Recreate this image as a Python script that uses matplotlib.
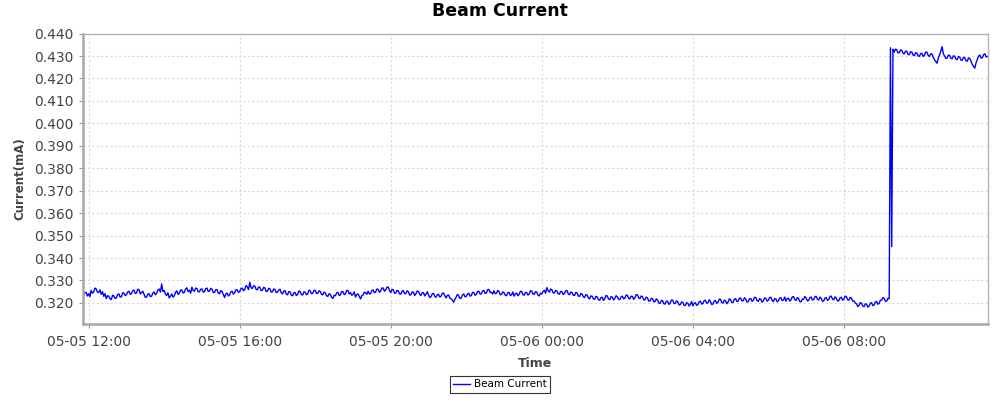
import matplotlib
matplotlib.use('Agg')
import matplotlib.pyplot as plt
import matplotlib.dates as mdates
import numpy as np
import pandas as pd


# Beam current readings, one every 2 minutes, in units of 1e-4 mA.
# Low beam runs from 05-05 11:52 up to 05-06 09:12, one hour per line.
low_beam = [
    3232, 3247, 3246, 3231,
    3241, 3228, 3256, 3243, 3249, 3266, 3262, 3247, 3247, 3258, 3238, 3250, 3229, 3241, 3219,
    3232, 3230, 3218, 3215, 3234, 3231, 3220, 3222, 3237, 3240, 3226, 3227, 3245, 3244, 3233,
    3236, 3249, 3252, 3238, 3241, 3255, 3257, 3242, 3244, 3261, 3259, 3240, 3246, 3252, 3238,
    3225, 3226, 3239, 3241, 3228, 3230, 3244, 3249, 3236, 3243, 3257, 3262, 3248, 3284, 3251,
    3255, 3239, 3233, 3245, 3222, 3230, 3240, 3226, 3231, 3247, 3254, 3238, 3243, 3257, 3258,
    3244, 3247, 3262, 3267, 3251, 3256, 3243, 3270, 3255, 3252, 3266, 3264, 3250, 3249, 3261,
    3262, 3248, 3250, 3263, 3266, 3251, 3253, 3265, 3261, 3246, 3247, 3259, 3259, 3244, 3241,
    3255, 3251, 3237, 3224, 3240, 3244, 3231, 3236, 3250, 3252, 3239, 3245, 3259, 3258, 3247,
    3251, 3263, 3266, 3254, 3260, 3277, 3272, 3259, 3292, 3268, 3264, 3276, 3275, 3261, 3258,
    3271, 3270, 3255, 3256, 3269, 3267, 3251, 3252, 3265, 3263, 3248, 3249, 3262, 3260, 3246,
    3248, 3257, 3261, 3245, 3240, 3252, 3255, 3239, 3236, 3250, 3249, 3234, 3232, 3245, 3246,
    3233, 3238, 3253, 3251, 3237, 3235, 3249, 3248, 3236, 3240, 3257, 3254, 3241, 3243, 3256,
    3256, 3242, 3243, 3254, 3251, 3238, 3236, 3248, 3244, 3232, 3229, 3241, 3238, 3225, 3220,
    3234, 3232, 3244, 3247, 3233, 3236, 3251, 3250, 3237, 3241, 3256, 3255, 3240, 3246, 3234,
    3238, 3249, 3226, 3237, 3240, 3229, 3218, 3232, 3235, 3248, 3246, 3238, 3252, 3240, 3241,
    3255, 3258, 3245, 3249, 3262, 3260, 3247, 3254, 3267, 3266, 3252, 3258, 3270, 3271, 3255,
    3246, 3260, 3259, 3243, 3244, 3256, 3253, 3240, 3239, 3252, 3255, 3241, 3242, 3254, 3250,
    3235, 3236, 3249, 3248, 3233, 3240, 3253, 3251, 3238, 3233, 3245, 3246, 3231, 3239, 3250,
    3236, 3224, 3228, 3241, 3242, 3229, 3225, 3237, 3238, 3226, 3230, 3243, 3244, 3231, 3222,
    3234, 3235, 3221, 3218, 3212, 3203, 3217, 3226, 3238, 3231, 3219, 3222, 3235, 3240, 3227,
    3229, 3240, 3243, 3230, 3233, 3247, 3246, 3234, 3238, 3251, 3252, 3239, 3241, 3254, 3255,
    3242, 3244, 3259, 3260, 3246, 3248, 3239, 3254, 3241, 3243, 3256, 3250, 3236, 3238, 3249,
    3245, 3234, 3232, 3246, 3247, 3233, 3236, 3249, 3230, 3241, 3244, 3232, 3238, 3252, 3251,
    3237, 3234, 3247, 3246, 3235, 3240, 3254, 3253, 3239, 3238, 3250, 3248, 3234, 3231, 3243,
    3240, 3251, 3256, 3243, 3268, 3255, 3248, 3262, 3259, 3245, 3244, 3256, 3253, 3240, 3239,
    3251, 3250, 3237, 3242, 3254, 3255, 3241, 3236, 3248, 3247, 3234, 3233, 3246, 3245, 3231,
    3229, 3242, 3240, 3227, 3224, 3237, 3235, 3222, 3218, 3231, 3230, 3217, 3216, 3229, 3227,
    3214, 3212, 3224, 3225, 3211, 3219, 3233, 3231, 3218, 3214, 3228, 3226, 3213, 3220, 3232,
    3228, 3216, 3215, 3227, 3230, 3218, 3221, 3235, 3234, 3220, 3218, 3230, 3229, 3216, 3223,
    3237, 3236, 3222, 3219, 3231, 3227, 3213, 3214, 3226, 3222, 3208, 3209, 3221, 3218, 3205,
    3206, 3218, 3213, 3200, 3198, 3211, 3210, 3196, 3195, 3208, 3207, 3193, 3200, 3213, 3212,
    3198, 3197, 3209, 3205, 3191, 3192, 3204, 3203, 3189, 3188, 3201, 3199, 3186, 3193, 3206,
    3187, 3198, 3201, 3189, 3192, 3205, 3208, 3195, 3197, 3210, 3212, 3199, 3200, 3214, 3206,
    3193, 3195, 3208, 3211, 3198, 3203, 3217, 3216, 3202, 3199, 3212, 3209, 3196, 3204, 3218,
    3214, 3201, 3203, 3216, 3219, 3206, 3208, 3221, 3222, 3209, 3210, 3223, 3217, 3204, 3205,
    3218, 3220, 3207, 3211, 3225, 3224, 3210, 3207, 3219, 3216, 3203, 3209, 3222, 3221, 3208,
    3212, 3224, 3225, 3211, 3206, 3219, 3218, 3205, 3210, 3222, 3223, 3210, 3213, 3226, 3208,
    3219, 3221, 3208, 3214, 3227, 3228, 3215, 3211, 3224, 3219, 3206, 3205, 3217, 3216, 3229,
    3222, 3209, 3211, 3224, 3226, 3213, 3215, 3228, 3229, 3216, 3213, 3226, 3220, 3207, 3209,
    3222, 3224, 3211, 3216, 3229, 3230, 3217, 3214, 3227, 3221, 3208, 3210, 3223, 3225, 3212,
    3217, 3230, 3228, 3214, 3212, 3225, 3221, 3208, 3209, 3200, 3196, 3184, 3188, 3201, 3199,
    3186, 3183, 3196, 3194, 3181, 3186, 3199, 3201, 3188, 3190, 3204, 3207, 3194, 3198, 3212,
    3212, 3224, 3220, 3207, 3208, 3221, 3218,
]

# High beam from 05-06 09:14 to 11:48 (with the one drop just after the step)
high_beam = [
    4337, 3451, 4330, 4318, 4331, 4328, 4314, 4315, 4327, 4326, 4312, 4310,
    4322, 4321, 4307, 4306, 4319, 4318, 4304, 4302, 4315, 4313, 4300,
    4299, 4311, 4312, 4298, 4304, 4318, 4317, 4303, 4298, 4310, 4309, 4295, 4283, 4276, 4268,
    4290, 4305, 4322, 4342, 4311, 4300, 4289, 4291, 4304, 4303, 4290, 4288, 4301, 4299, 4286,
    4284, 4297, 4296, 4282, 4281, 4294, 4293, 4279, 4277, 4291, 4290, 4276, 4263, 4254, 4246,
    4270, 4285, 4299, 4305, 4291, 4292, 4306, 4310, 4296, 4298,
]

y_ticks = [0.320, 0.330, 0.340, 0.350, 0.360, 0.370, 0.380, 0.390,
           0.400, 0.410, 0.420, 0.430, 0.440]

current = np.array(low_beam + high_beam) / 10000.0
times = pd.date_range('2024-05-05 11:52', periods=len(current), freq='2min')


fig = plt.figure(figsize=(10, 4), dpi=100)
ax = fig.add_axes([0.083, 0.19, 0.905, 0.726])

ax.plot(times, current, color='#0000ff', lw=1.0, label='Beam Current')

ax.set_xlim(pd.Timestamp('2024-05-05 11:51'), pd.Timestamp('2024-05-06 11:49'))
ax.set_ylim(0.3106, 0.440)
ax.set_yticks(y_ticks)
ax.yaxis.set_major_formatter(matplotlib.ticker.FormatStrFormatter('%.3f'))
ax.xaxis.set_major_locator(mdates.HourLocator(byhour=[0, 4, 8, 12, 16, 20]))
ax.xaxis.set_major_formatter(mdates.DateFormatter('%m-%d %H:%M'))

ax.grid(True, color='#dadada', linestyle=(0, (2, 2)), lw=0.8)
ax.set_axisbelow(True)

for side in ['top', 'right']:
    ax.spines[side].set_color('#b4b4b4')
    ax.spines[side].set_linewidth(1.0)
for side in ['left', 'bottom']:
    ax.spines[side].set_color('#a8a8a8')
    ax.spines[side].set_linewidth(1.8)

ax.tick_params(axis='both', colors='#9a9a9a', length=3, width=0.8,
               labelsize=10, labelcolor='#444444')
ax.tick_params(axis='x', pad=5)

ax.set_xlabel('Time', fontsize=9, fontweight='bold', color='#444444', labelpad=6)
ax.set_ylabel('Current(mA)', fontsize=8.5, fontweight='bold', color='#444444', labelpad=6)
fig.suptitle('Beam Current', fontsize=12.5, fontweight='bold', y=0.995)

leg = fig.legend(loc='lower center', bbox_to_anchor=(0.5, 0.005), fontsize=7.5,
                 frameon=True, fancybox=False, handlelength=1.6,
                 borderpad=0.35, handletextpad=0.4)
leg.get_frame().set_edgecolor('#000000')
leg.get_frame().set_linewidth(0.8)

fig.savefig('out.png', dpi=100)
